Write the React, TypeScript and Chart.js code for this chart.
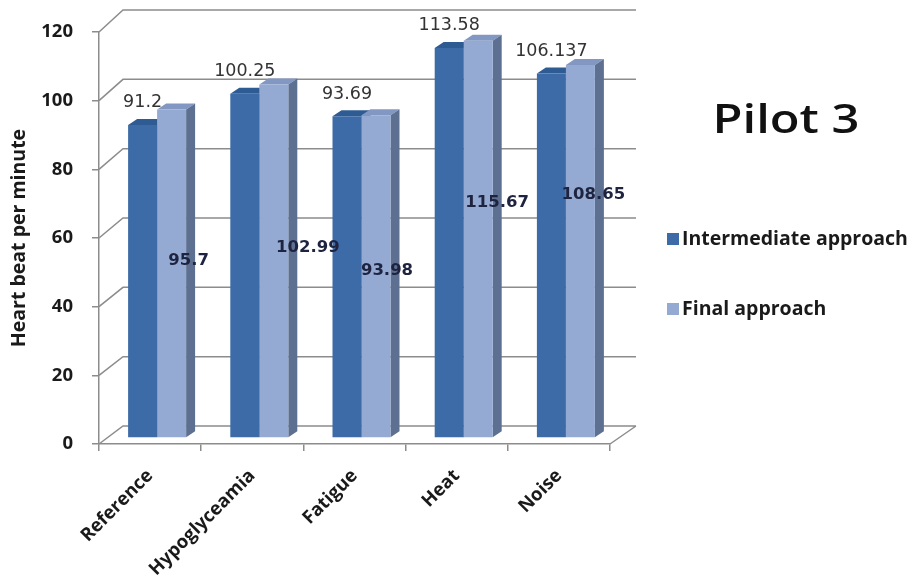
import { useEffect, useRef } from 'react';
import { Chart, registerables } from 'chart.js';

Chart.register(...registerables);

// ---- data ----
const categories = ['Reference', 'Hypoglyceamia', 'Fatigue', 'Heat', 'Noise'];
const intermediateValues = [91.2, 100.25, 93.69, 113.58, 106.137];
const finalValues = [95.7, 102.99, 93.98, 115.67, 108.65];
const yTickValues = [0, 20, 40, 60, 80, 100, 120];
const seriesNames = ['Intermediate approach', 'Final approach'];
const chartTitle = 'Pilot 3';
const yAxisTitle = 'Heart beat per minute';

// ---- styling ----
const FONT = "'Open Sans', 'DejaVu Sans', sans-serif";
const VALUE_FONT = "'DejaVu Sans', Verdana, sans-serif";
const GRID = '#8c8c8c';
const TEXT = '#1a1a1a';
const DARK = { front: '#3d6ba8', top: '#2f5b93', side: '#2b4a78' };
const LIGHT = { front: '#94aad3', top: '#8298c3', side: '#5e7092' };

// 3-D geometry (pixels)
const BAR_SHIFT = { x: 7, y: -6 }; // bar plane relative to the front axis plane
const BAR_DEPTH = { x: 9, y: -6 }; // visible depth of each column
const WALL_DX_LEFT = 24;
const WALL_DX_RIGHT = 26;
const wallDy = (v: number) => -18 - v / 30;

// hand-placed offsets of the "Final approach" labels from the column middle
const FINAL_LABEL_NUDGE: [number, number][] = [
  [17, -14],
  [34, -15],
  [11, -7],
  [19, -38],
  [13, -58],
];

const faces = [DARK, LIGHT];

const threeD = {
  id: 'threeD',
  beforeDraw(chart: any) {
    const { ctx, chartArea: a } = chart;
    const y = chart.scales.y;
    ctx.save();
    ctx.fillStyle = '#ffffff';
    ctx.fillRect(0, 0, chart.width, chart.height);
    ctx.strokeStyle = GRID;
    ctx.lineWidth = 1.5;
    const backL = a.left + WALL_DX_LEFT;
    const backR = a.right + WALL_DX_RIGHT;
    ctx.beginPath();
    for (const v of yTickValues) {
      const yf = y.getPixelForValue(v);
      const yb = yf + wallDy(v);
      ctx.moveTo(a.left, yf);
      ctx.lineTo(backL, yb);
      ctx.lineTo(backR, yb);
    }
    const y0 = y.getPixelForValue(0);
    ctx.moveTo(a.right, y0);
    ctx.lineTo(backR, y0 + wallDy(0));
    ctx.stroke();
    ctx.restore();
  },
  beforeDatasetsDraw(chart: any) {
    const { ctx } = chart;
    ctx.save();
    ctx.translate(BAR_SHIFT.x, BAR_SHIFT.y);
    const metas = [chart.getDatasetMeta(0), chart.getDatasetMeta(1)];
    const { x: dx, y: dy } = BAR_DEPTH;
    for (let i = 0; i < categories.length; i++) {
      metas.forEach((meta: any, d: number) => {
        const { x, y, base, width } = meta.data[i].getProps(['x', 'y', 'base', 'width'], true);
        const l = x - width / 2;
        const r = x + width / 2;
        ctx.fillStyle = faces[d].top;
        ctx.beginPath();
        ctx.moveTo(l, y);
        ctx.lineTo(l + dx, y + dy);
        ctx.lineTo(r + dx, y + dy);
        ctx.lineTo(r, y);
        ctx.closePath();
        ctx.fill();
        ctx.fillStyle = faces[d].side;
        ctx.beginPath();
        ctx.moveTo(r, y);
        ctx.lineTo(r + dx, y + dy);
        ctx.lineTo(r + dx, base + dy);
        ctx.lineTo(r, base);
        ctx.closePath();
        ctx.fill();
      });
    }
  },
  afterDatasetsDraw(chart: any) {
    const { ctx } = chart;
    const m0 = chart.getDatasetMeta(0);
    const m1 = chart.getDatasetMeta(1);
    ctx.textAlign = 'center';
    ctx.textBaseline = 'alphabetic';

    const s0 = 17.5;
    ctx.font = `${s0}px ${VALUE_FONT}`;
    ctx.fillStyle = '#333333';
    m0.data.forEach((bar: any, i: number) => {
      ctx.fillText(String(intermediateValues[i]), bar.x, bar.y - 24 + s0 * 0.36);
    });

    const s1 = 16.5;
    ctx.font = `bold ${s1}px ${VALUE_FONT}`;
    ctx.fillStyle = '#1e2440';
    m1.data.forEach((bar: any, i: number) => {
      const mid = (bar.y + bar.base) / 2;
      const [nx, ny] = FINAL_LABEL_NUDGE[i];
      ctx.fillText(String(finalValues[i]), bar.x + nx, mid + ny + s1 * 0.36);
    });
    ctx.restore();
  },
  afterDraw(chart: any) {
    const { ctx } = chart;
    ctx.save();
    // title
    ctx.font = `600 40px ${FONT}`;
    ctx.fillStyle = '#111111';
    ctx.textAlign = 'center';
    ctx.textBaseline = 'alphabetic';
    ctx.save();
    ctx.translate(786, 133);
    ctx.scale(1.22, 1);
    ctx.fillText(chartTitle, 0, 0);
    ctx.restore();

    // legend
    ctx.font = `bold 19.5px ${FONT}`;
    ctx.textAlign = 'left';
    chart.data.datasets.forEach((ds: any, i: number) => {
      const cy = 239 + i * 70;
      ctx.fillStyle = ds.backgroundColor;
      ctx.fillRect(667, cy - 6, 12, 12);
      ctx.fillStyle = TEXT;
      ctx.fillText(ds.label, 682, cy + 6);
    });
    ctx.restore();
  },
};

export default function App() {
  const ref = useRef<HTMLCanvasElement>(null);

  useEffect(() => {
    const canvas = ref.current;
    if (!canvas) return;
    const chart = new Chart(canvas, {
      type: 'bar',
      data: {
        labels: categories,
        datasets: [
          {
            label: seriesNames[0],
            data: intermediateValues,
            backgroundColor: DARK.front,
            borderWidth: 0,
            clip: false as any,
          },
          {
            label: seriesNames[1],
            data: finalValues,
            backgroundColor: LIGHT.front,
            borderWidth: 0,
            clip: false as any,
          },
        ],
      },
      options: {
        responsive: true,
        maintainAspectRatio: false,
        animation: false,
        layout: { padding: { top: 32, right: 307, left: 0, bottom: 0 } },
        datasets: { bar: { categoryPercentage: 0.5675, barPercentage: 1 } },
        plugins: {
          legend: { display: false },
          tooltip: { enabled: false },
          title: { display: false },
        },
        scales: {
          x: {
            type: 'category',
            grid: {
              offset: true,
              drawOnChartArea: false,
              drawTicks: true,
              tickLength: 7,
              color: GRID,
              lineWidth: 1.5,
            },
            border: { display: true, color: GRID, width: 1.5 },
            ticks: {
              minRotation: 45,
              maxRotation: 45,
              autoSkip: false,
              padding: 14,
              color: TEXT,
              font: { family: FONT, size: 18.5, weight: 'bold' },
            },
            afterFit: (s: any) => {
              s.height = 138;
            },
          },
          y: {
            type: 'linear',
            min: 0,
            max: 120,
            afterBuildTicks: (s: any) => {
              s.ticks = yTickValues.map((value) => ({ value }));
            },
            grid: {
              drawOnChartArea: false,
              drawTicks: true,
              tickLength: 7,
              color: GRID,
              lineWidth: 1.5,
            },
            border: { display: true, color: GRID, width: 1.5 },
            ticks: {
              padding: 19,
              color: TEXT,
              font: { family: FONT, size: 18.5, weight: 'bold' },
            },
            title: {
              display: true,
              text: yAxisTitle,
              color: TEXT,
              padding: { top: 8, bottom: 0 },
              font: { family: FONT, size: 19.5, weight: 'bold' },
            },
            afterFit: (s: any) => {
              s.width = 99;
            },
          },
        },
      },
      plugins: [threeD],
    });
    return () => chart.destroy();
  }, []);

  return (
    <div
      style={{
        position: 'fixed',
        left: 0,
        top: 0,
        width: 917,
        height: 582,
        background: '#ffffff',
      }}
    >
      <canvas ref={ref} />
    </div>
  );
}
